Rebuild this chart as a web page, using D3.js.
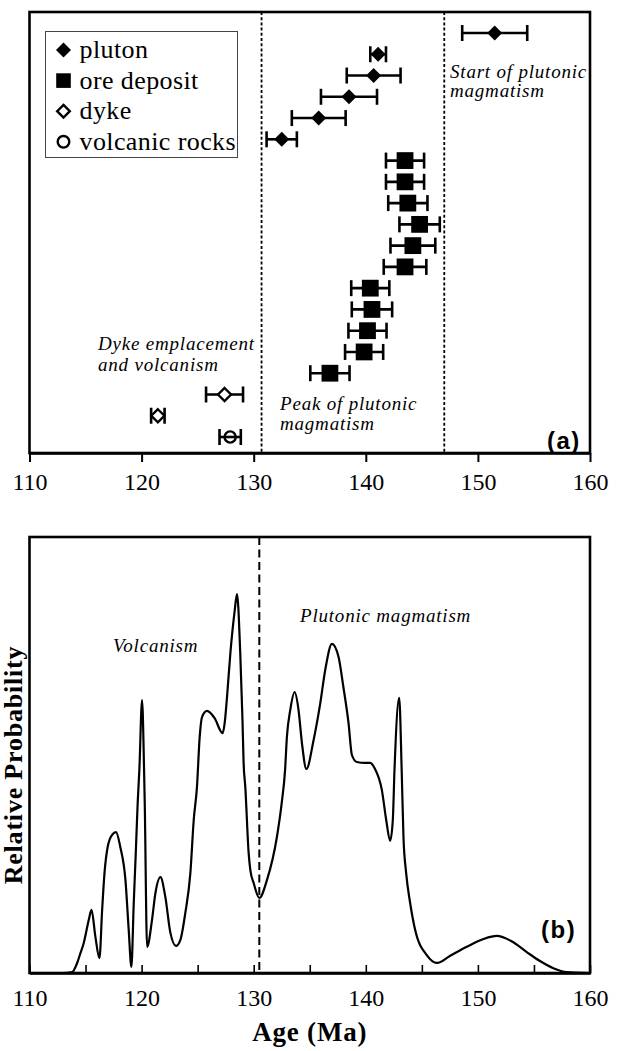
<!DOCTYPE html>
<html>
<head>
<meta charset="utf-8">
<script src="https://cdn.jsdelivr.net/npm/d3@7"></script>
<style>
  html, body { margin: 0; padding: 0; background: #fff; }
  svg { display: block; }
  .serif { font-family: "Liberation Serif", "Times New Roman", serif; }
  .sans { font-family: "Liberation Sans", Arial, sans-serif; }
</style>
</head>
<body>
<script>
// ---- Panel (a): dated samples (age in Ma, 2-sigma error) ----
const plutonAge = [151.5, 141.1, 140.7, 138.5, 135.8, 132.5];
const plutonErr = [2.9, 0.7, 2.4, 2.5, 2.4, 1.35];
const oreAge = [143.5, 143.5, 143.75, 144.8, 144.2, 143.5, 140.4, 140.55, 140.15, 139.85, 136.8];
const oreErr = [1.7, 1.7, 1.75, 1.8, 2.0, 1.9, 1.7, 1.8, 1.7, 1.7, 1.75];
const dykeAge = [127.4, 121.45];
const dykeErr = [1.65, 0.6];
const volcAge = [127.9];
const volcErr = [0.95];

// Event boundaries (Ma)
const boundaryA = [130.7, 147.0];
const boundaryB = [130.5];

// Axis ticks
const ticksA = [110, 120, 130, 140, 150, 160];
const ticksB = [110, 115, 120, 125, 130, 135, 140, 145, 150, 155, 160];

// ---- Panel (b): relative probability curve ----
const pdfAge = [110.0, 113.0, 113.8, 114.25, 114.55, 114.84, 115.29, 115.53, 115.88, 116.24,
  116.48, 116.69, 116.98, 117.37, 117.72, 118.1, 118.56, 118.85, 119.09, 119.3,
  119.48, 119.65, 119.8, 120.04, 120.22, 120.28, 120.49, 120.93, 121.23, 121.68,
  122.12, 122.57, 123.07, 123.46, 123.9, 124.35, 124.65, 124.94, 125.18, 125.39,
  125.84, 126.5, 127.23, 127.41, 127.62, 127.92, 128.3, 128.51, 128.8, 129.0,
  129.1, 129.25, 129.55, 129.7, 130.0, 130.5, 131.18, 132.07, 132.5, 132.8,
  132.96, 133.26, 133.65, 134.0, 134.3, 134.7, 135.34, 135.94, 136.38, 136.98,
  137.57, 138.0, 138.46, 138.76, 139.2, 139.95, 140.39, 140.8, 141.43, 141.82,
  142.17, 142.41, 142.56, 142.98, 143.2, 143.36, 143.6, 143.96, 144.4, 145.44,
  146.34, 147.5, 149.0, 150.5, 151.68, 153.0, 154.36, 155.5, 156.73, 157.9, 160.0];
const pdfProb = [0, 0, 0.002, 0.023, 0.046, 0.069, 0.122, 0.145, 0.083, 0.034,
  0.145, 0.229, 0.29, 0.317, 0.323, 0.289, 0.213, 0.099, 0.014, 0.161,
  0.275, 0.39, 0.466, 0.626, 0.466, 0.39, 0.06, 0.122, 0.183, 0.22,
  0.174, 0.092, 0.062, 0.076, 0.138, 0.229, 0.351, 0.427, 0.541, 0.587,
  0.601, 0.585, 0.55, 0.573, 0.633, 0.734, 0.83, 0.869, 0.734, 0.58,
  0.482, 0.427, 0.275, 0.236, 0.206, 0.172, 0.213, 0.312, 0.39, 0.466,
  0.541, 0.603, 0.644, 0.603, 0.528, 0.468, 0.534, 0.619, 0.695, 0.755,
  0.725, 0.656, 0.573, 0.5, 0.484, 0.482, 0.482, 0.469, 0.42, 0.351,
  0.303, 0.351, 0.466, 0.631, 0.466, 0.312, 0.229, 0.16, 0.099, 0.041,
  0.023, 0.039, 0.06, 0.078, 0.085, 0.073, 0.048, 0.028, 0.011, 0.002, 0];

const W = 622, H = 1051;
const svg = d3.select("body").append("svg").attr("width", W).attr("height", H);

const x = d3.scaleLinear().domain([110, 160]).range([29.5, 590]);

// ================= Panel (a) =================
const aTop = 12, aBot = 453;
const gA = svg.append("g");

// sample rows: plutons, ore deposits, dykes, volcanic rocks from top to bottom
const samples = [];
plutonAge.forEach((a, i) => samples.push({ type: "pluton", age: a, err: plutonErr[i] }));
oreAge.forEach((a, i) => samples.push({ type: "ore", age: a, err: oreErr[i] }));
dykeAge.forEach((a, i) => samples.push({ type: "dyke", age: a, err: dykeErr[i] }));
volcAge.forEach((a, i) => samples.push({ type: "volcanic", age: a, err: volcErr[i] }));
samples.forEach((d, i) => d.row = i);

const row = d3.scalePoint().domain(d3.range(samples.length)).range([33, 437]);

// boundary lines
gA.selectAll("line.bnd").data(boundaryA).join("line")
  .attr("x1", d => x(d)).attr("x2", d => x(d))
  .attr("y1", aTop).attr("y2", aBot)
  .attr("stroke", "#000").attr("stroke-width", 1.8)
  .attr("stroke-dasharray", "3,2.2");

// error bars
const eb = gA.selectAll("g.eb").data(samples).join("g")
  .attr("transform", d => `translate(0,${row(d.row)})`);
eb.append("line")
  .attr("x1", d => x(d.age - d.err)).attr("x2", d => x(d.age + d.err))
  .attr("stroke", "#000").attr("stroke-width", 2.6);
eb.append("line")
  .attr("x1", d => x(d.age - d.err)).attr("x2", d => x(d.age - d.err))
  .attr("y1", -8).attr("y2", 8)
  .attr("stroke", "#000").attr("stroke-width", 2.6);
eb.append("line")
  .attr("x1", d => x(d.age + d.err)).attr("x2", d => x(d.age + d.err))
  .attr("y1", -8).attr("y2", 8)
  .attr("stroke", "#000").attr("stroke-width", 2.6);

function marker(sel, type) {
  if (type === "pluton") {
    sel.append("path").attr("d", "M0,-7.5L7.5,0L0,7.5L-7.5,0Z").attr("fill", "#000");
  } else if (type === "ore") {
    sel.append("rect").attr("x", -8.4).attr("y", -8.4).attr("width", 16.8).attr("height", 16.8).attr("fill", "#000");
  } else if (type === "dyke") {
    sel.append("path").attr("d", "M0,-6.5L6.5,0L0,6.5L-6.5,0Z")
      .attr("fill", "#fff").attr("stroke", "#000").attr("stroke-width", 2.4);
  } else {
    sel.append("circle").attr("r", 5.6)
      .attr("fill", "none").attr("stroke", "#000").attr("stroke-width", 2.4);
  }
}
eb.each(function (d) {
  const g = d3.select(this).append("g").attr("transform", `translate(${x(d.age)},0)`);
  marker(g, d.type);
});

// frame
gA.append("rect")
  .attr("x", x(110)).attr("y", aTop)
  .attr("width", x(160) - x(110)).attr("height", aBot - aTop)
  .attr("fill", "none").attr("stroke", "#000").attr("stroke-width", 2.6);

// x axis
const axA = gA.append("g").attr("transform", `translate(0,${aBot})`)
  .call(d3.axisBottom(x).tickValues(ticksA).tickSize(9).tickSizeOuter(0).tickPadding(11).tickFormat(d3.format("d")));
axA.select(".domain").attr("stroke-width", 2.6);
axA.selectAll(".tick line").attr("stroke-width", 2);
axA.selectAll(".tick text").attr("class", "serif").attr("font-size", 24).attr("fill", "#000");

// legend
const leg = gA.append("g");
leg.append("rect").attr("x", 45.5).attr("y", 31.5).attr("width", 192).attr("height", 126)
  .attr("fill", "#fff").attr("stroke", "#444").attr("stroke-width", 1);
const legItems = [
  { type: "pluton", label: "pluton" },
  { type: "ore", label: "ore deposit" },
  { type: "dyke", label: "dyke" },
  { type: "volcanic", label: "volcanic rocks" }
];
legItems.forEach((it, i) => {
  const by = 58 + i * 30.6;
  const g = leg.append("g").attr("transform", `translate(63.5,${by - 8})`);
  if (it.type === "pluton") g.append("path").attr("d", "M0,-7.5L7.5,0L0,7.5L-7.5,0Z").attr("fill", "#000");
  else if (it.type === "ore") g.append("rect").attr("x", -7.3).attr("y", -7.3).attr("width", 14.6).attr("height", 14.6).attr("fill", "#000");
  else if (it.type === "dyke") g.append("path").attr("d", "M0,-6.3L6.3,0L0,6.3L-6.3,0Z").attr("fill", "#fff").attr("stroke", "#000").attr("stroke-width", 2.4);
  else g.append("circle").attr("r", 5.8).attr("fill", "none").attr("stroke", "#000").attr("stroke-width", 2.4);
  leg.append("text").attr("class", "serif").attr("x", 79.5).attr("y", by)
    .attr("font-size", 26).attr("letter-spacing", 0.4).attr("fill", "#000").text(it.label);
});

// annotations
function italic(g, xx, yy, lines, lh) {
  const t = g.append("text").attr("class", "serif").attr("font-style", "italic")
    .attr("font-size", 19).attr("letter-spacing", 0.8).attr("fill", "#000");
  lines.forEach((s, i) => t.append("tspan").attr("x", xx).attr("y", yy + i * lh).text(s));
}
italic(gA, 450, 78, ["Start of plutonic", "magmatism"], 19);
italic(gA, 98, 350, ["Dyke emplacement", "and volcanism"], 21);
italic(gA, 280, 410, ["Peak of plutonic", "magmatism"], 19.5);

gA.append("text").attr("class", "sans").attr("x", 547).attr("y", 449)
  .attr("font-size", 24).attr("font-weight", "bold").attr("letter-spacing", 1.5)
  .attr("fill", "#000").text("(a)");

// ================= Panel (b) =================
const bTop = 537, bBot = 973;
const gB = svg.append("g");
const y = d3.scaleLinear().domain([0, 1]).range([bBot, bTop]);

gB.selectAll("line.bnd").data(boundaryB).join("line")
  .attr("x1", d => x(d)).attr("x2", d => x(d))
  .attr("y1", bTop).attr("y2", bBot)
  .attr("stroke", "#000").attr("stroke-width", 2)
  .attr("stroke-dasharray", "8,4.5");

const pdf = pdfAge.map((a, i) => [a, pdfProb[i]]);
gB.append("path").datum(pdf)
  .attr("d", d3.line().x(d => x(d[0])).y(d => y(d[1])).curve(d3.curveMonotoneX))
  .attr("fill", "none").attr("stroke", "#000").attr("stroke-width", 2.2);

gB.append("rect")
  .attr("x", x(110)).attr("y", bTop)
  .attr("width", x(160) - x(110)).attr("height", bBot - bTop)
  .attr("fill", "none").attr("stroke", "#000").attr("stroke-width", 2.6);

const axB = gB.append("g").attr("transform", `translate(0,${bBot})`)
  .call(d3.axisBottom(x).tickValues(ticksB).tickSizeInner(-8).tickSizeOuter(0).tickPadding(16)
    .tickFormat(d => d % 10 === 0 ? d3.format("d")(d) : ""));
axB.select(".domain").attr("stroke-width", 2.6);
axB.selectAll(".tick line").attr("stroke-width", 1.6);
axB.selectAll(".tick text").attr("class", "serif").attr("font-size", 24).attr("fill", "#000");

italic(gB, 113, 652, ["Volcanism"], 0);
italic(gB, 300, 622, ["Plutonic magmatism"], 0);

gB.append("text").attr("class", "sans").attr("x", 541).attr("y", 938)
  .attr("font-size", 24).attr("font-weight", "bold").attr("letter-spacing", 1.5)
  .attr("fill", "#000").text("(b)");

// axis titles
svg.append("text").attr("class", "serif")
  .attr("x", x(135)).attr("y", 1041).attr("text-anchor", "middle")
  .attr("font-size", 27).attr("font-weight", "bold").attr("letter-spacing", 0.8)
  .attr("fill", "#000").text("Age (Ma)");

svg.append("text").attr("class", "serif")
  .attr("transform", "translate(22,765) rotate(-90)").attr("text-anchor", "middle")
  .attr("font-size", 26).attr("font-weight", "bold").attr("letter-spacing", 0.8)
  .attr("fill", "#000").text("Relative Probability");
</script>
</body>
</html>
